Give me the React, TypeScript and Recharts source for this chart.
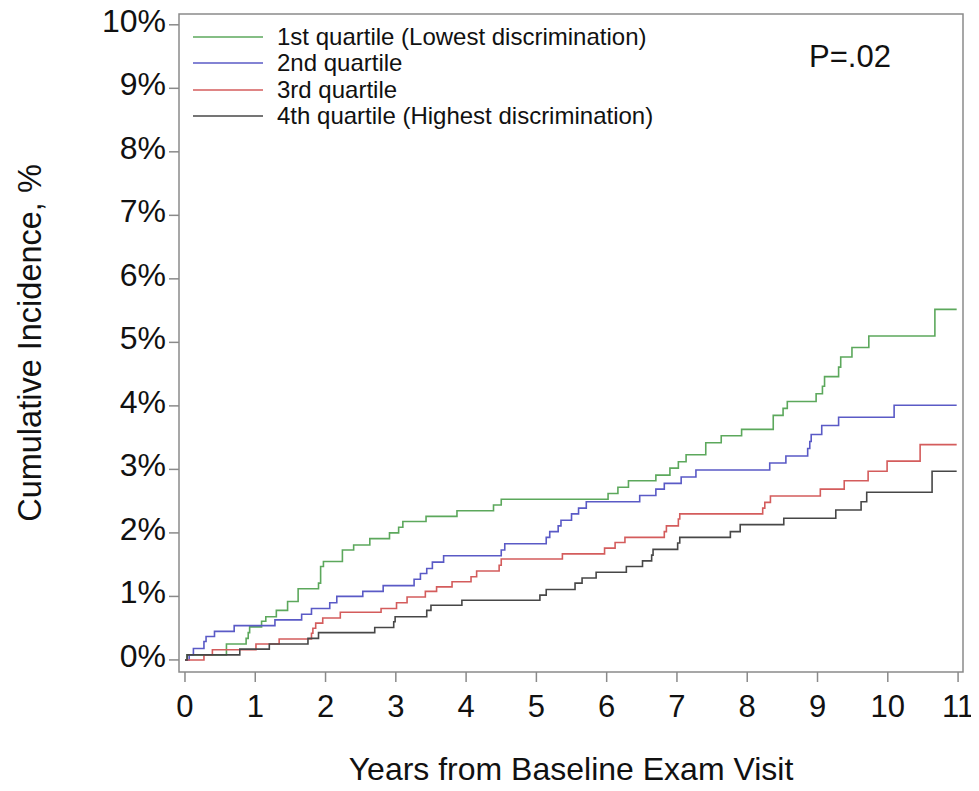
import React from 'react';
import { LineChart, Line, XAxis, YAxis, ReferenceArea, Legend } from 'recharts';

// Years and cumulative incidence (%) for each quartile
const q1Times = [0, 0.03, 0.59, 0.87, 0.90, 0.92, 1.09, 1.15, 1.30, 1.46, 1.61, 1.90, 1.93, 1.97, 2.24, 2.40, 2.63, 2.91, 3.04, 3.10, 3.43, 3.87, 4.39, 4.50, 6.02, 6.16, 6.31, 6.70, 6.90, 7.02, 7.13, 7.41, 7.63, 7.92, 8.37, 8.51, 8.57, 8.98, 9.07, 9.10, 9.30, 9.33, 9.49, 9.73, 10.67, 10.98];
const q1Values = [0, 0.08, 0.25, 0.34, 0.43, 0.52, 0.61, 0.68, 0.78, 0.92, 1.12, 1.21, 1.47, 1.55, 1.73, 1.81, 1.91, 2.00, 2.09, 2.18, 2.26, 2.35, 2.44, 2.53, 2.62, 2.72, 2.82, 2.91, 3.02, 3.12, 3.23, 3.42, 3.53, 3.63, 3.85, 3.96, 4.07, 4.19, 4.31, 4.46, 4.61, 4.77, 4.92, 5.10, 5.52, 5.52];

const q2Times = [0, 0.06, 0.12, 0.27, 0.30, 0.42, 0.70, 1.28, 1.66, 1.80, 2.06, 2.16, 2.53, 2.82, 3.26, 3.35, 3.44, 3.52, 3.68, 4.50, 4.55, 5.14, 5.19, 5.31, 5.35, 5.50, 5.60, 5.71, 6.47, 6.70, 6.82, 7.06, 7.27, 8.32, 8.55, 8.86, 8.89, 8.91, 9.06, 9.30, 10.09, 10.98];
const q2Values = [0, 0.08, 0.18, 0.29, 0.37, 0.45, 0.54, 0.63, 0.72, 0.81, 0.90, 1.00, 1.08, 1.17, 1.27, 1.36, 1.44, 1.54, 1.64, 1.73, 1.83, 1.93, 2.02, 2.11, 2.20, 2.30, 2.39, 2.49, 2.59, 2.69, 2.78, 2.88, 2.99, 3.10, 3.21, 3.33, 3.44, 3.55, 3.69, 3.82, 4.01, 4.01];

const q3Times = [0, 0.27, 0.39, 1.01, 1.34, 1.80, 1.82, 1.86, 1.96, 2.21, 2.79, 3.01, 3.16, 3.42, 3.58, 3.80, 4.07, 4.15, 4.47, 4.50, 5.37, 5.97, 6.12, 6.26, 6.82, 6.85, 7.02, 7.04, 8.22, 8.25, 8.33, 9.04, 9.38, 9.72, 9.99, 10.46, 10.98];
const q3Values = [0, 0.08, 0.16, 0.25, 0.33, 0.42, 0.50, 0.58, 0.66, 0.75, 0.81, 0.90, 0.99, 1.08, 1.15, 1.23, 1.31, 1.40, 1.49, 1.59, 1.67, 1.76, 1.85, 1.93, 2.02, 2.11, 2.22, 2.30, 2.39, 2.48, 2.58, 2.69, 2.82, 2.97, 3.13, 3.39, 3.39];

const q4Times = [0, 0.03, 0.78, 1.20, 1.75, 1.90, 2.70, 2.97, 2.99, 3.44, 3.50, 3.94, 5.05, 5.14, 5.55, 5.65, 5.85, 6.28, 6.51, 6.64, 6.66, 7.01, 7.04, 7.76, 7.90, 8.52, 9.26, 9.62, 9.70, 10.63, 10.98];
const q4Values = [0, 0.08, 0.17, 0.25, 0.34, 0.43, 0.51, 0.60, 0.68, 0.78, 0.86, 0.94, 1.02, 1.11, 1.21, 1.29, 1.38, 1.47, 1.56, 1.65, 1.74, 1.84, 1.93, 2.02, 2.13, 2.23, 2.36, 2.49, 2.64, 2.97, 2.97];

const seriesNames = [
  '1st quartile (Lowest discrimination)',
  '2nd quartile',
  '3rd quartile',
  '4th quartile (Highest discrimination)',
];
const seriesColors = ['#5ca85c', '#5a5ac6', '#d45c5c', '#474747'];
const xTicks = [0, 1, 2, 3, 4, 5, 6, 7, 8, 9, 10, 11];
const yTicks = [0, 1, 2, 3, 4, 5, 6, 7, 8, 9, 10];
const xTitle = 'Years from Baseline Exam Visit';
const yTitle = 'Cumulative Incidence, %';
const pValueText = 'P=.02';

const X_DOMAIN: [number, number] = [-0.085, 11.07];
const Y_DOMAIN: [number, number] = [-0.19, 10.17];

const FONT = '"Liberation Sans", Arial, Helvetica, sans-serif';

const toData = (t: number[], v: number[]) => t.map((x, i) => ({ t: x, v: v[i] }));
const seriesData = [
  toData(q1Times, q1Values),
  toData(q2Times, q2Values),
  toData(q3Times, q3Values),
  toData(q4Times, q4Values),
];

const XTick = (props: any) => {
  const { x, y, payload } = props;
  return (
    <text x={x} y={y} dy="0.71em" textAnchor="middle" fill="#111" fontSize={31} fontFamily={FONT}>
      {payload.value}
    </text>
  );
};

const YTick = (props: any) => {
  const { x, y, payload } = props;
  return (
    <text x={x} y={y} dy={7} textAnchor="end" fill="#111" fontSize={32} fontFamily={FONT}>
      {`${payload.value}%`}
    </text>
  );
};

const XTitle = (props: any) => {
  const vb = props.viewBox || {};
  return (
    <text x={vb.x + vb.width / 2} y={vb.y + 108} textAnchor="middle" fill="#111" fontSize={32} fontFamily={FONT}>
      {xTitle}
    </text>
  );
};

const YTitle = (props: any) => {
  const vb = props.viewBox || {};
  const cx = vb.x + 30;
  const cy = vb.y + vb.height / 2;
  return (
    <text
      x={cx}
      y={cy}
      transform={`rotate(-90, ${cx}, ${cy})`}
      textAnchor="middle"
      dominantBaseline="central"
      fill="#111"
      fontSize={32.5}
      fontFamily={FONT}
    >
      {yTitle}
    </text>
  );
};

const LegendContent = () => (
  <div style={{ fontFamily: FONT, fontSize: 24, color: '#111' }}>
    {seriesNames.map((name, i) => (
      <div key={name} style={{ display: 'flex', alignItems: 'center', height: 26.3, whiteSpace: 'nowrap' }}>
        <svg width={70} height={4} style={{ display: 'block' }}>
          <line x1={0} y1={2} x2={70} y2={2} stroke={seriesColors[i]} strokeWidth={1.5} />
        </svg>
        <span style={{ marginLeft: 14, lineHeight: '26px' }}>{name}</span>
      </div>
    ))}
  </div>
);

export default function App() {
  return (
    <div style={{ width: 979, height: 791, margin: '-8px 0 0 -8px', background: '#fff' }}>
      <LineChart width={979} height={791} margin={{ top: 14, right: 16, bottom: 0, left: 0 }}>
        <XAxis
          type="number"
          dataKey="t"
          domain={X_DOMAIN}
          ticks={xTicks}
          interval={0}
          allowDataOverflow
          axisLine={false}
          tickLine={{ stroke: '#8a8a8a', strokeWidth: 1.5 }}
          tickSize={10}
          tickMargin={13}
          height={119}
          tick={<XTick />}
          label={<XTitle />}
        />
        <YAxis
          type="number"
          domain={Y_DOMAIN}
          ticks={yTicks}
          interval={0}
          allowDataOverflow
          axisLine={false}
          tickLine={{ stroke: '#8a8a8a', strokeWidth: 1.5 }}
          tickSize={10}
          tickMargin={3}
          width={179}
          tick={<YTick />}
          label={<YTitle />}
        />
        <ReferenceArea
          x1={X_DOMAIN[0]}
          x2={X_DOMAIN[1]}
          y1={Y_DOMAIN[0]}
          y2={Y_DOMAIN[1]}
          fill="none"
          fillOpacity={0}
          stroke="#8a8a8a"
          strokeWidth={1.5}
          ifOverflow="visible"
        />
        {seriesData.map((d, i) => (
          <Line
            key={seriesNames[i]}
            data={d}
            dataKey="v"
            name={seriesNames[i]}
            type="stepAfter"
            stroke={seriesColors[i]}
            strokeWidth={1.6}
            dot={false}
            activeDot={false}
            isAnimationActive={false}
          />
        ))}
        <Legend
          layout="vertical"
          align="center"
          verticalAlign="middle"
          content={<LegendContent />}
          wrapperStyle={{ left: 193, top: 24, width: 'auto', height: 'auto' }}
        />
        <text x={809} y={67} fill="#111" fontSize={31} fontFamily={FONT}>
          {pValueText}
        </text>
      </LineChart>
    </div>
  );
}
